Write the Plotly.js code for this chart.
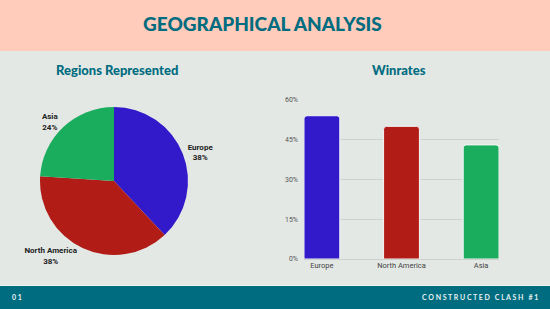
<!DOCTYPE html>
<html>
<head>
<meta charset="utf-8">
<script src="https://cdn.plot.ly/plotly-3.0.1.min.js"></script>
<style>html,body{margin:0;padding:0;background:#E3E8E5;}#chart{width:550px;height:309px;}</style>
</head>
<body>
<div id="chart"></div>
<script>
// Data
const regions = ["Europe", "North America", "Asia"];
const regionShare = [38, 38, 24];
const winrates = [54, 50, 43];
const yTicks = [0, 15, 30, 45, 60];
const colors = ["#321ACB", "#B11C17", "#1BAD5E"];

const teal = "#006C7F";

const pie = {
  type: "pie",
  labels: regions,
  values: regionShare,
  sort: false,
  direction: "clockwise",
  rotation: 0,
  marker: {colors: colors},
  textposition: "outside",
  texttemplate: "<b>%{label}</b><br><b>%{percent:.0%}</b>",
  textfont: {family: "Roboto, Arial, sans-serif", size: 8, color: "#222"},
  showlegend: false,
  hoverinfo: "none",
  domain: {x: [0.0727, 0.3418], y: [0.1731, 0.6553]}
};

const bar = {
  type: "bar",
  x: regions,
  y: winrates,
  marker: {color: colors, line: {color: "#F4F6F5", width: 1}},
  showlegend: false,
  hoverinfo: "none",
  xaxis: "x",
  yaxis: "y"
};

const layout = {
  width: 550, height: 309,
  margin: {l: 0, r: 0, t: 0, b: 0},
  paper_bgcolor: "#E3E8E5",
  plot_bgcolor: "rgba(0,0,0,0)",
  bargap: 0.55,
  barcornerradius: 3,
  xaxis: {
    domain: [0.5527, 0.9073],
    range: [-0.225, 2.225],
    showgrid: false, zeroline: false, showline: false,
    ticks: "",
    tickfont: {family: "Roboto, Arial, sans-serif", size: 7.5, color: "#444"},
    fixedrange: true
  },
  yaxis: {
    domain: [0.1618, 0.6796],
    range: [0, 60.3],
    tickvals: yTicks,
    ticktext: yTicks.map(v => v + "%"),
    showgrid: true, gridcolor: "#CDD2CF", gridwidth: 1,
    zeroline: true, zerolinecolor: "#CDD2CF", zerolinewidth: 1,
    showline: false, ticks: "",
    ticklabelstandoff: 5,
    tickfont: {family: "Roboto, Arial, sans-serif", size: 7, color: "#555"},
    fixedrange: true
  },
  shapes: [
    {type: "rect", xref: "paper", yref: "paper", x0: 0, x1: 1, y0: 0.835, y1: 1, fillcolor: "#FFCBBA", line: {width: 0}, layer: "below"},
    {type: "rect", xref: "paper", yref: "paper", x0: 0, x1: 1, y0: 0, y1: 0.0744, fillcolor: teal, line: {width: 0}, layer: "below"},
    {type: "line", xref: "paper", yref: "paper", x0: 0, x1: 1, y0: 0.0760, y1: 0.0760, line: {color: "#EEF2F0", width: 1}, layer: "below"}
  ],
  annotations: [
    {text: "GEOGRAPHICAL ANALYSIS", xref: "paper", yref: "paper", x: 262/550, y: 1 - 23/309, xanchor: "center", yanchor: "middle", showarrow: false,
     font: {family: "Lato, sans-serif", size: 19, color: teal, weight: 900}},
    {text: "Regions Represented", xref: "paper", yref: "paper", x: 117/550, y: 1 - 70/309, xanchor: "center", yanchor: "middle", showarrow: false,
     font: {family: "Lato, sans-serif", size: 13, color: teal, weight: 900}},
    {text: "Winrates", xref: "paper", yref: "paper", x: 399/550, y: 1 - 70/309, xanchor: "center", yanchor: "middle", showarrow: false,
     font: {family: "Lato, sans-serif", size: 13, color: teal, weight: 900}},
    {text: "0 1", xref: "paper", yref: "paper", x: 10/550, y: 1 - 297/309, xanchor: "left", yanchor: "middle", showarrow: false,
     font: {family: "Lato, sans-serif", size: 7, color: "#E8F0F2", weight: 700}},
    {text: "C O N S T R U C T E D   C L A S H   # 1", xref: "paper", yref: "paper", x: 540/550, y: 1 - 297/309, xanchor: "right", yanchor: "middle", showarrow: false,
     font: {family: "Lato, sans-serif", size: 7, color: "#E8F0F2", weight: 700}}
  ]
};

Plotly.newPlot("chart", [pie, bar], layout, {displayModeBar: false, staticPlot: true});
</script>
</body>
</html>
